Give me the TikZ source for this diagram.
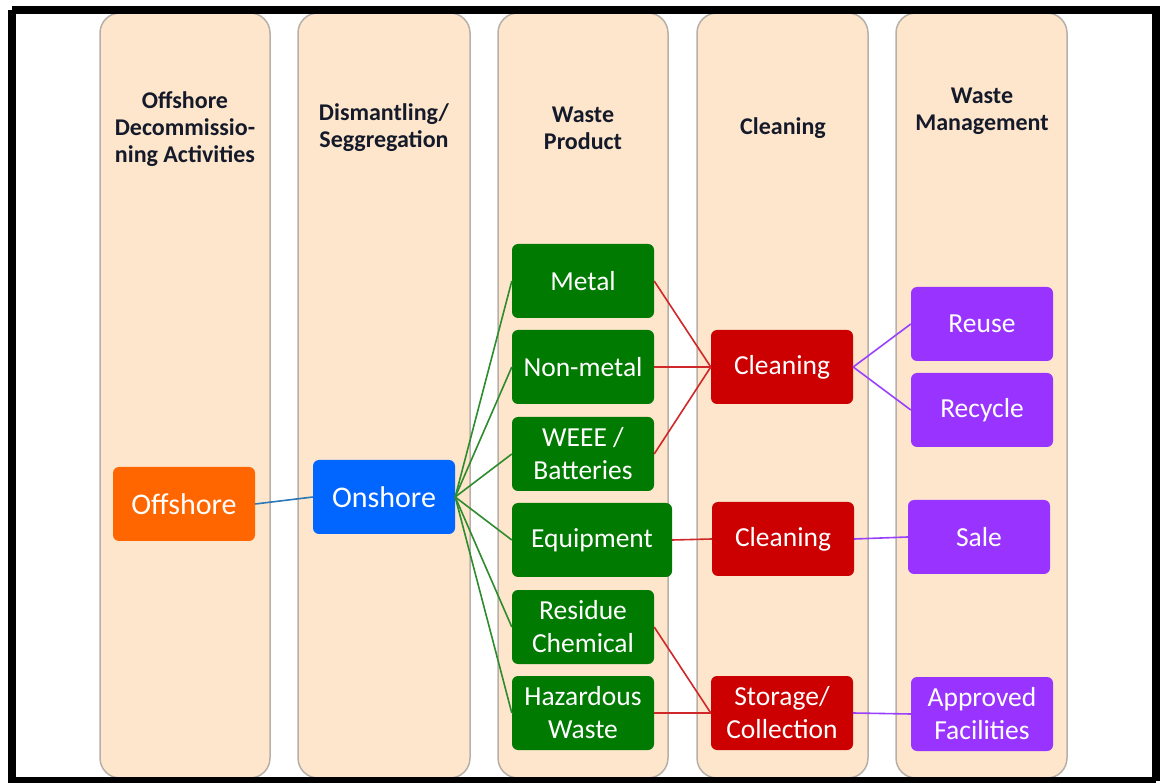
\documentclass[tikz,border=0pt]{standalone}
\usepackage{fontspec}
\setmainfont{Carlito}
\definecolor{lanefill}{HTML}{FDE6CC}
\definecolor{laneedge}{HTML}{B8B0A8}
\definecolor{cOrange}{HTML}{FF6600}
\definecolor{cBlue}{HTML}{0066FF}
\definecolor{cGreen}{HTML}{007A00}
\definecolor{cRed}{HTML}{CC0000}
\definecolor{cPurple}{HTML}{9933FF}
\definecolor{lBlue}{HTML}{2A78B8}
\definecolor{lGreen}{HTML}{2E8B2E}
\definecolor{lRed}{HTML}{D02828}
\definecolor{lPurple}{HTML}{9940FF}
\definecolor{headtext}{HTML}{151A2A}
\begin{document}
\begin{tikzpicture}[x=1pt,y=-1pt,
  lane/.style={draw=laneedge,line width=1.5pt,fill=lanefill,rounded corners=20pt},
  header/.style={align=center,text=headtext,font=\fontsize{24}{27}\selectfont\bfseries},
  box/.style={rounded corners=6pt,inner sep=0pt,align=center,text=white,
    minimum width=142pt,minimum height=74pt,font=\fontsize{27.5}{33}\selectfont},
  bigbox/.style={box,font=\fontsize{30}{36}\selectfont},
  link/.style={line width=1.6pt}
]
\useasboundingbox (0,0) rectangle (1163,783);
\fill[white] (0,0) rectangle (1163,783);

% swimlanes
\foreach \l/\xa/\xb in {1/100/270,2/298/470,3/498/668,4/697/868,5/896/1067}
  \draw[lane] (\xa,13) rectangle (\xb,778);

% lane headings
\node[header] (h1) at (185,129) {Offshore\\Decommissio-\\ning Activities};
\node[header] (h2) at (384,128) {Dismantling/\\Seggregation};
\node[header] (h3) at (583,128) {Waste\\Product};
\node[header] (h4) at (783,128) {Cleaning};
\node[header] (h5) at (982,111) {Waste\\Management};

% sources
\node[bigbox,fill=cOrange] (off) at (184,504) {Offshore};
\node[bigbox,fill=cBlue] (on) at (384,497) {Onshore};

% waste products
\node[box,fill=cGreen] (metal) at (583,281) {Metal};
\node[box,fill=cGreen] (nonmetal) at (583,367) {Non-metal};
\node[box,fill=cGreen] (weee) at (583,454) {WEEE /\\Batteries};
\node[box,fill=cGreen,minimum width=160pt] (equip) at (592,540) {Equipment};
\node[box,fill=cGreen] (residue) at (583,627) {Residue\\Chemical};
\node[box,fill=cGreen] (hazard) at (583,713) {Hazardous\\Waste};

% treatment
\node[box,fill=cRed] (clean1) at (782,367) {Cleaning};
\node[box,fill=cRed] (clean2) at (783,539) {Cleaning};
\node[box,fill=cRed] (storage) at (782,713) {Storage/\\Collection};

% outcomes
\node[box,fill=cPurple] (reuse) at (982,324) {Reuse};
\node[box,fill=cPurple] (recycle) at (982,410) {Recycle};
\node[box,fill=cPurple] (sale) at (979,537) {Sale};
\node[box,fill=cPurple] (approved) at (982,714) {Approved\\Facilities};

% connectors
\draw[link,lBlue] (off.east) -- (on.west);
\foreach \n in {metal,nonmetal,weee,equip,residue,hazard}
  \draw[link,lGreen] (on.east) -- (\n.west);
\foreach \n in {metal,nonmetal,weee}
  \draw[link,lRed] (\n.east) -- (clean1.west);
\draw[link,lRed] (equip.east) -- (clean2.west);
\draw[link,lRed] (residue.east) -- (storage.west);
\draw[link,lRed] (hazard.east) -- (storage.west);
\draw[link,lPurple] (clean1.east) -- (reuse.west);
\draw[link,lPurple] (clean1.east) -- (recycle.west);
\draw[link,lPurple] (clean2.east) -- (sale.west);
\draw[link,lPurple] (storage.east) -- (approved.west);

% outer frame
\draw[line width=8pt] (12,10) -- (1156,10) -- (1156,781) (12,10) -- (12,781) -- (1156,781);
\end{tikzpicture}
\end{document}
